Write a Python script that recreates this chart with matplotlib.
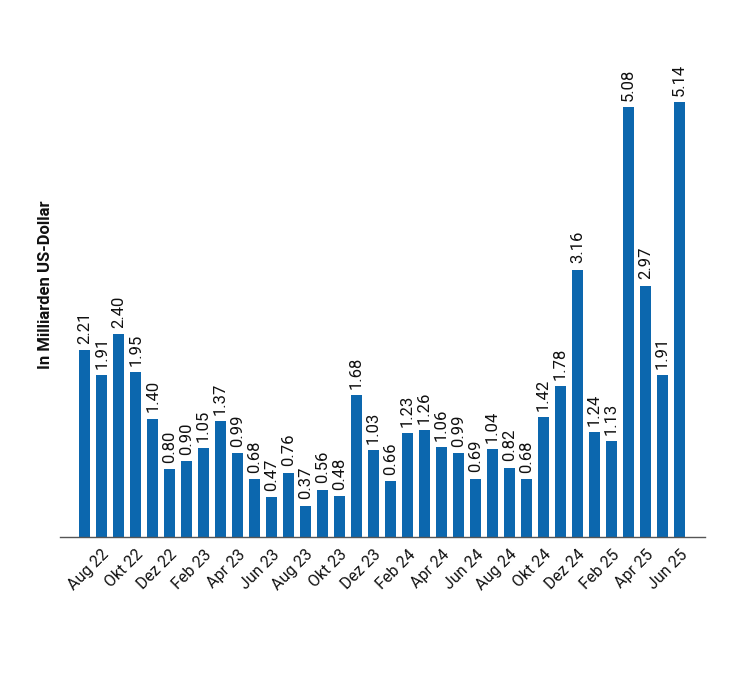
import matplotlib
matplotlib.use("Agg")
import matplotlib.pyplot as plt

plt.rcParams['font.family'] = ['Roboto', 'DejaVu Sans']

months = ["Jul 22", "Aug 22", "Sep 22", "Okt 22", "Nov 22", "Dez 22",
          "Jan 23", "Feb 23", "Mär 23", "Apr 23", "Mai 23", "Jun 23",
          "Jul 23", "Aug 23", "Sep 23", "Okt 23", "Nov 23", "Dez 23",
          "Jan 24", "Feb 24", "Mär 24", "Apr 24", "Mai 24", "Jun 24",
          "Jul 24", "Aug 24", "Sep 24", "Okt 24", "Nov 24", "Dez 24",
          "Jan 25", "Feb 25", "Mär 25", "Apr 25", "Mai 25", "Jun 25"]
values = [2.21, 1.91, 2.40, 1.95, 1.40, 0.80, 0.90, 1.05, 1.37, 0.99, 0.68, 0.47,
          0.76, 0.37, 0.56, 0.48, 1.68, 1.03, 0.66, 1.23, 1.26, 1.06, 0.99, 0.69,
          1.04, 0.82, 0.68, 1.42, 1.78, 3.16, 1.24, 1.13, 5.08, 2.97, 1.91, 5.14]
y_label = "In Milliarden US-Dollar"

fig = plt.figure(figsize=(7.35, 6.83), dpi=100)
ax = fig.add_axes([60/735, 1 - 537/683, 645/735, 497/683])

x = list(range(len(values)))
bars = ax.bar(x, values, width=0.65, color="#0c67ae")
for xi, v in zip(x, values):
    ax.annotate(f"{v:.2f}", (xi, v), xytext=(0, 4.5), textcoords="offset points",
                rotation=90, ha="center", va="bottom", fontsize=12, color="#111111")

ax.set_xlim(-1.45, 36.5)
ax.set_ylim(0, 497/84.6)
tick_pos = x[1::2]
ax.set_xticks(tick_pos)
ax.set_xticklabels([months[i] for i in tick_pos], rotation=45, ha="right",
                   rotation_mode="anchor", fontsize=11.5, color="#111111")
ax.tick_params(axis="x", length=0, pad=7)
ax.set_yticks([])
for s in ["top", "right", "left"]:
    ax.spines[s].set_visible(False)
ax.spines["bottom"].set_color("#555555")
ax.spines["bottom"].set_linewidth(1.0)
ax.set_ylabel(y_label, fontsize=12, fontweight="bold", color="#111111")
ax.yaxis.set_label_coords(-7/645, (537 - 285) / 497)

fig.savefig("out.png", dpi=100)
